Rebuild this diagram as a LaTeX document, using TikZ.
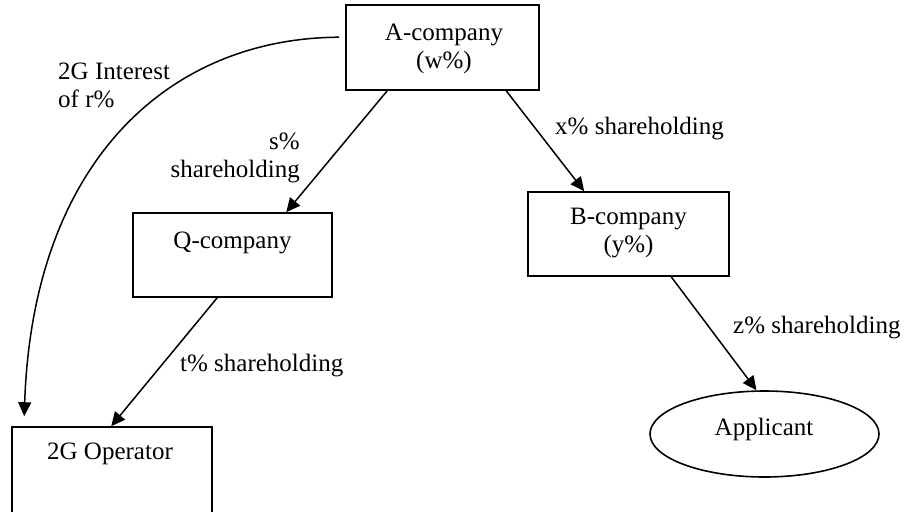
\documentclass[tikz,border=0pt]{standalone}
\usepackage{fontspec}
\setmainfont{Liberation Serif}
\usetikzlibrary{arrows.meta,shapes.geometric}
\begin{document}
\begin{tikzpicture}[x=1pt,y=-1pt,
  box/.style={draw,line width=1.6pt,minimum width=#1,inner sep=0pt},
  txt/.style={inner sep=0pt,font=\fontsize{25}{28}\selectfont},
  conn/.style={line width=1.5pt,-{Triangle[length=14pt,width=13pt]}}]
\useasboundingbox (0,0) rectangle (904,511);
\clip (0,0) rectangle (904,511);
\node[box=193pt,minimum height=85pt] (A) at (442.5,47.5) {};
\node[box=199pt,minimum height=84pt] (Q) at (232.5,255) {};
\node[box=201pt,minimum height=84pt] (B) at (628.5,234) {};
\node[box=200pt,minimum height=100pt] (Op) at (112,477) {};
\node[draw,ellipse,line width=1.6pt,minimum width=229pt,minimum height=86pt,inner sep=0pt] (App) at (764.5,434) {};
% box texts
\node[txt,anchor=base] (At1) at (444,41) {A-company};
\node[txt,anchor=base] (At2) at (444,69) {(w\%)};
\node[txt,anchor=base] (Qt) at (232.5,248) {Q-company};
\node[txt,anchor=base] (Bt1) at (628.5,224.5) {B-company};
\node[txt,anchor=base] (Bt2) at (628.5,252.5) {(y\%)};
\node[txt,anchor=base] (Opt) at (110,459.5) {2G Operator};
\node[txt,anchor=base] (Appt) at (764,435.5) {Applicant};
% connectors
\draw[conn] ([xshift=42pt]A.south west) -- ([xshift=154pt]Q.north west);
\draw[conn] ([xshift=161pt]A.south west) -- ([xshift=57pt]B.north west);
\draw[conn] ([xshift=85pt]Q.south west) -- ([xshift=100pt]Op.north west);
\draw[conn] ([xshift=144pt]B.south west) -- ([xshift=-8pt]App.north);
\draw[conn] ([xshift=-6pt,yshift=-33pt]A.north west) .. controls (170,38) and (33,160) .. ([xshift=13pt,yshift=10pt]Op.north west);
% labels
\node[txt,anchor=base west] (L1a) at (58,79) {2G Interest};
\node[txt,anchor=base west] (L1b) at (58,107) {of r\%};
\node[txt,anchor=base east] (L2a) at (300,149) {s\%};
\node[txt,anchor=base east] (L2b) at (300,177) {shareholding};
\node[txt,anchor=base west] (L3) at (555,134.5) {x\% shareholding};
\node[txt,anchor=base west] (L4) at (180,371.5) {t\% shareholding};
\node[txt,anchor=base west] (L5) at (733,333) {z\% shareholding};
\end{tikzpicture}
\end{document}
